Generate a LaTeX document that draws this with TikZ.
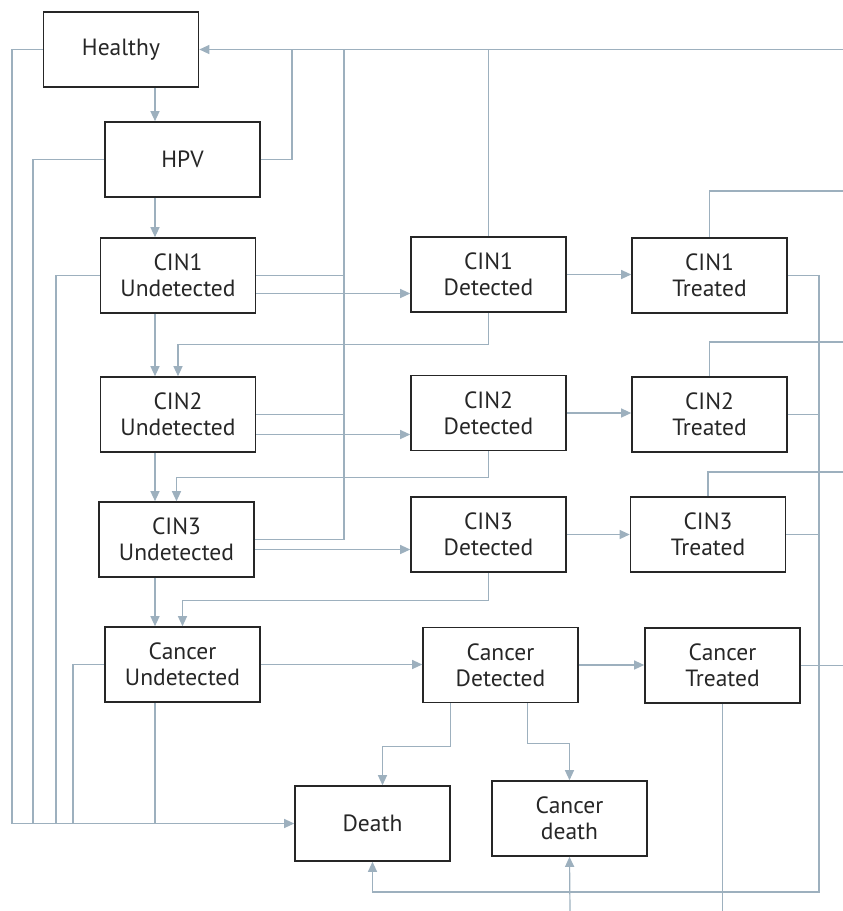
\documentclass[tikz,border=0pt]{standalone}
\usepackage{fontspec}
\setmainfont{PT Sans}
\usetikzlibrary{arrows.meta}
\definecolor{linkgray}{HTML}{9DB0BE}
\definecolor{boxgray}{HTML}{262626}
\begin{document}
\begin{tikzpicture}[x=1pt,y=-1pt,
    state/.style={draw=boxgray, line width=1.6pt, minimum width=155pt, minimum height=75pt,
        inner sep=0pt, align=center, text=boxgray, font=\fontsize{23.5}{26}\selectfont},
    link/.style={draw=linkgray, line width=1.2pt},
    flow/.style={link, -{Triangle[length=10pt,width=9pt]}}]
    \useasboundingbox (0,0) rectangle (843,911);

    \node[state] (healthy) at (121,49.5) {Healthy};
    \node[state] (hpv) at (182.5,159.5) {HPV};
    \node[state] (cin1u) at (178,275.5) {CIN1\\Undetected};
    \node[state] (cin2u) at (178,414.5) {CIN2\\Undetected};
    \node[state] (cin3u) at (176.5,539.5) {CIN3\\Undetected};
    \node[state] (canu) at (182.5,664.5) {Cancer\\Undetected};
    \node[state] (cin1d) at (488.5,274.5) {CIN1\\Detected};
    \node[state] (cin2d) at (488.5,413) {CIN2\\Detected};
    \node[state] (cin3d) at (488.5,534.5) {CIN3\\Detected};
    \node[state] (cand) at (500.5,665) {Cancer\\Detected};
    \node[state] (cin1t) at (709.5,275.5) {CIN1\\Treated};
    \node[state] (cin2t) at (709.5,414.5) {CIN2\\Treated};
    \node[state] (cin3t) at (708,534.5) {CIN3\\Treated};
    \node[state] (cant) at (722.5,665.5) {Cancer\\Treated};
    \node[state] (death) at (372.5,823.5) {Death};
    \node[state] (cdeath) at (569.5,818.5) {Cancer\\death};

    \coordinate (colA) at (155,0);
    \coordinate (railA) at (12,0);
    \coordinate (railB) at (33,0);
    \coordinate (railC) at (56,0);
    \coordinate (railD) at (73,0);
    \coordinate (railE) at (292,0);
    \coordinate (railF) at (344,0);
    \coordinate (railBottom) at (819,892);
    \coordinate (edgeTop) at (843,49.5);
    \coordinate (edgeR1) at (843,191);
    \coordinate (edgeR2) at (843,342);
    \coordinate (edgeR3) at (843,472);
    \coordinate (edgeIn) at (570,911);

    \draw[flow] (healthy.south -| colA) -- (hpv.north -| colA);
    \foreach \a/\b in {hpv/cin1u, cin1u/cin2u, cin2u/cin3u, cin3u/canu}
        \draw[flow] (\a.south -| colA) -- (\b.north -| colA);
    \draw[link] (canu.south -| colA) -- (death.west -| colA);

    \draw[flow] (healthy.west) -| (railA |- death.west) -- (death.west);
    \draw[link] (hpv.west) -| (railB |- death.west);
    \draw[link] (cin1u.west) -| (railC |- death.west);
    \draw[link] (canu.west) -| (railD |- death.west);

    \draw[flow] (edgeTop) -- (healthy.east);
    \draw[link] (hpv.east) -| (railE |- healthy.east);
    \draw[link] (cin3u.east) -| (railF |- healthy.east);
    \draw[link] (cin1u.east) -- (cin1u.east -| railF);
    \draw[link] (cin2u.east) -- (cin2u.east -| railF);
    \draw[link] (cin1d.north) -- (cin1d.north |- healthy.east);

    \draw[flow] ([yshift=-18pt]cin1u.east) -- ([yshift=-18pt]cin1u.east -| cin1d.west);
    \draw[flow] ([yshift=-20pt]cin2u.east) -- ([yshift=-20pt]cin2u.east -| cin2d.west);
    \draw[flow] ([yshift=-10pt]cin3u.east) -- ([yshift=-10pt]cin3u.east -| cin3d.west);
    \draw[flow] (canu.east) -- (canu.east -| cand.west);

    \draw[flow] (cin1d.east) -- (cin1d.east -| cin1t.west);
    \draw[flow] (cin2d.east) -- (cin2d.east -| cin2t.west);
    \draw[flow] (cin3d.east) -- (cin3t.west);
    \draw[flow] (cand.east) -- (cand.east -| cant.west);

    \draw[flow] (cin1d.south) -- ++(0,32) -| (cin2u.north);
    \draw[flow] (cin2d.south) -- ++(0,26) -| (cin3u.north);
    \draw[flow] (cin3d.south) -- ++(0,28) -| (canu.north);

    \draw[link] (cin1t.north) |- (edgeR1);
    \draw[link] (cin2t.north) |- (edgeR2);
    \draw[link] (cin3t.north) |- (edgeR3);

    \draw[flow] (cin1t.east) -| (railBottom) -| (death.south);
    \draw[link] (cin2t.east) -- (cin2t.east -| railBottom);
    \draw[link] (cin3t.east) -- (cin3t.east -| railBottom);
    \draw[link] (cant.east) -- (cant.east -| edgeTop);
    \draw[link] (cant.south) -- (cant.south |- edgeIn);

    \draw[flow] ([xshift=-50pt]cand.south) -- ++(0,43) -| ([xshift=10pt]death.north);
    \draw[flow] ([xshift=27pt]cand.south) -- ++(0,40) -| (cdeath.north);
    \draw[flow] (edgeIn) -- (cdeath.south);
\end{tikzpicture}
\end{document}
